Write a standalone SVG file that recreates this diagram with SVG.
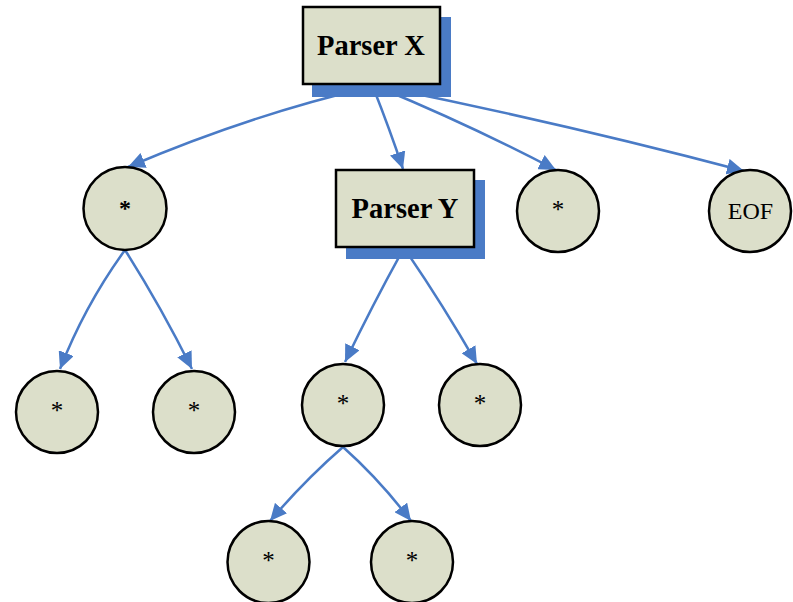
<svg xmlns="http://www.w3.org/2000/svg" width="793" height="602" viewBox="0 0 793 602">
<style>
.box{fill:#dcdfca;stroke:#000;stroke-width:2.5}
.shadow{fill:#4a7bc6}
.node{fill:#dcdfca;stroke:#000;stroke-width:2.5}
.edge{fill:none;stroke:#4a7bc6;stroke-width:2.5;marker-end:url(#ah)}
.t{font-family:"Liberation Serif",serif;fill:#000;text-anchor:middle}
.tb{font-weight:bold}
.ast{font-size:25px}
</style>
<defs>
<marker id="ah" markerUnits="userSpaceOnUse" markerWidth="18" markerHeight="16" refX="17" refY="8" orient="auto">
<path d="M0,0 L17,8 L0,16 z" fill="#4a7bc6"/>
</marker>
</defs>
<g id="connectors">
<path class="edge" d="M370,87 Q250,115 128,167"/>
<path class="edge" d="M373,87 Q390,130 403,169"/>
<path class="edge" d="M378,87 Q470,125 556,170"/>
<path class="edge" d="M383,87 Q570,125 744,171"/>
<path class="edge" d="M125,250 Q85,305 60,369"/>
<path class="edge" d="M125,250 Q160,305 192,369"/>
<path class="edge" d="M404,248 Q375,300 345,362"/>
<path class="edge" d="M404,248 Q440,300 477,364"/>
<path class="edge" d="M343,447 Q305,480 270,521"/>
<path class="edge" d="M343,447 Q380,480 411,521"/>
</g>
<g id="parserX">
<rect class="shadow" x="312" y="17" width="139" height="80"/>
<rect class="box" x="303" y="7" width="137" height="77"/>
<text class="t tb" x="371" y="55" font-size="28.5">Parser X</text>
</g>
<g id="parserY">
<rect class="shadow" x="346" y="180" width="139" height="79"/>
<rect class="box" x="336" y="170" width="138" height="77"/>
<text class="t tb" x="405" y="218" font-size="28.5">Parser Y</text>
</g>
<g id="n1">
<circle class="node" cx="125" cy="208.5" r="41.5"/>
<text class="t tb" x="125" y="216" font-size="24">*</text>
</g>
<g id="n2">
<circle class="node" cx="558" cy="211" r="41"/>
<text class="t ast" x="558" y="218">*</text>
</g>
<g id="eof">
<circle class="node" cx="750" cy="211" r="41"/>
<text class="t" x="750.5" y="219" font-size="24">EOF</text>
</g>
<g id="n3">
<circle class="node" cx="57" cy="412" r="41"/>
<text class="t ast" x="57" y="419">*</text>
</g>
<g id="n4">
<circle class="node" cx="194" cy="412" r="41"/>
<text class="t ast" x="194" y="419">*</text>
</g>
<g id="n5">
<circle class="node" cx="343" cy="405" r="41"/>
<text class="t ast" x="343" y="412">*</text>
</g>
<g id="n6">
<circle class="node" cx="480" cy="405" r="41"/>
<text class="t ast" x="480" y="412">*</text>
</g>
<g id="n7">
<circle class="node" cx="268.5" cy="562" r="41"/>
<text class="t ast" x="268.5" y="569">*</text>
</g>
<g id="n8">
<circle class="node" cx="412" cy="562" r="41"/>
<text class="t ast" x="412" y="569">*</text>
</g>
</svg>
